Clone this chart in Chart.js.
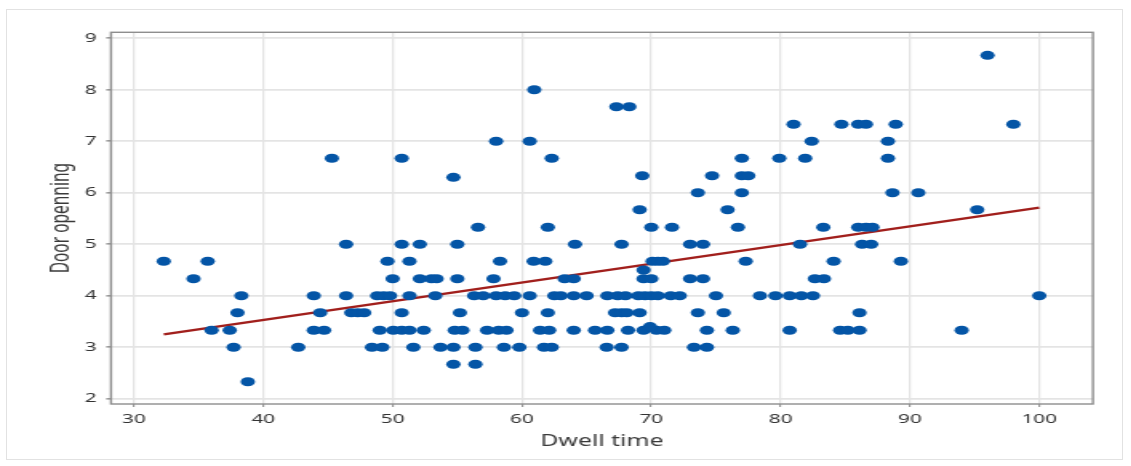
<!DOCTYPE html>
<html>
<head>
<meta charset="utf-8">
<title>Dwell time vs Door openning</title>
<script src="https://cdn.jsdelivr.net/npm/chart.js@4/dist/chart.umd.min.js"></script>
<style>
  html, body { margin: 0; padding: 0; background: #fff; }
  #page { position: relative; width: 1131px; height: 466px; overflow: hidden; }
  #frame { position: absolute; left: 6px; top: 9px; width: 1117px; height: 451px; border: 1px solid #e2e2e2; box-sizing: border-box; }
  /* the plot is drawn narrow and widened, like the exported graph */
  #stretch { position: absolute; left: 0; top: 0; transform: scaleX(1.6); transform-origin: 0 0; }
</style>
</head>
<body>
<div id="page">
  <div id="frame"></div>
  <div id="stretch"><canvas id="scatterChart" width="707" height="466"></canvas></div>
</div>
<script>
// door openning values that occur, and the dwell times observed at each of them
const doorLevels = [2.33, 2.67, 3, 3.33, 3.4, 3.67, 4, 4.33, 4.5, 4.67, 5, 5.33, 5.67, 6, 6.3, 6.33, 6.67, 7, 7.33, 7.67, 8, 8.67];
const dwellByLevel = [
  [38.8],
  [54.7, 56.4],
  [37.7, 42.7, 48.4, 49.2, 51.6, 53.7, 54.7, 56.4, 58.6, 59.8, 61.7, 62.3, 66.55, 67.7, 73.3, 74.3],
  [36.0, 37.4, 43.9, 44.7, 49.0, 50.05, 50.7, 51.3, 52.4, 54.8, 55.4, 57.3, 58.2, 58.8, 61.4, 62.1, 64.0, 65.65, 66.6, 68.2, 69.4, 70.4, 71.0, 74.3, 76.3, 80.7, 84.6, 85.2, 86.1, 94.0],
  [69.9],
  [38.0, 44.4, 46.8, 47.3, 47.8, 50.7, 55.2, 60.0, 62.0, 67.2, 67.7, 68.1, 69.1, 73.6, 75.6, 86.1],
  [38.3, 43.9, 46.4, 48.8, 49.3, 49.8, 51.3, 53.3, 56.3, 57.0, 58.0, 58.7, 59.4, 60.6, 62.5, 63.0, 64.0, 65.0, 66.6, 67.4, 68.0, 69.0, 69.5, 70.0, 70.5, 71.5, 72.2, 75.0, 78.4, 79.6, 80.7, 81.6, 82.5, 100.0],
  [34.6, 50.0, 52.1, 53.0, 53.4, 55.0, 57.8, 63.3, 64.0, 69.4, 70.0, 73.0, 74.0, 82.65, 83.35],
  [69.4],
  [32.3, 35.7, 49.6, 51.3, 58.3, 60.9, 61.8, 70.1, 70.5, 70.9, 77.3, 84.1, 89.3],
  [46.4, 50.7, 52.1, 55.0, 64.1, 67.7, 73.0, 74.0, 81.5, 86.3, 87.0],
  [56.6, 62.0, 70.0, 71.6, 76.7, 83.3, 86.0, 86.6, 87.1],
  [69.1, 75.9, 95.2],
  [73.6, 77.0, 88.65, 90.65],
  [54.7],
  [69.3, 74.7, 77.0, 77.5],
  [45.3, 50.7, 62.3, 77.0, 79.9, 81.9, 88.3],
  [58.0, 60.6, 82.4, 88.3],
  [81.0, 84.7, 86.0, 86.6, 88.9, 98.0],
  [67.3, 68.3],
  [60.95],
  [96.0]
];

// fitted line end points
const fitDwell = [32.3, 100];
const fitDoor = [3.25, 5.71];

const xTicks = [30, 40, 50, 60, 70, 80, 90, 100];
const yTicks = [2, 3, 4, 5, 6, 7, 8, 9];

const points = doorLevels.flatMap((y, i) => dwellByLevel[i].map(x => ({ x: x, y: y })));
const fitLine = fitDwell.map((x, i) => ({ x: x, y: fitDoor[i] }));

// grey box round the plot area
const plotFrame = {
    id: 'plotFrame',
    beforeDatasetsDraw(chart) {
        const { ctx, chartArea: a } = chart;
        ctx.save();
        ctx.strokeStyle = '#8e8e8e';
        ctx.lineWidth = 1.4;
        ctx.strokeRect(a.left, a.top, a.right - a.left, a.bottom - a.top);
        ctx.restore();
    }
};

const tickFont = { family: 'Noto Sans', size: 13 };
const titleFont = { family: 'Noto Sans', size: 15.5 };

new Chart(document.getElementById('scatterChart').getContext('2d'), {
    type: 'scatter',
    data: {
        datasets: [{
            data: points,
            backgroundColor: '#0455a6',
            pointBackgroundColor: '#0455a6',
            pointBorderWidth: 0,
            pointRadius: 4.5
        }, {
            data: fitLine,
            showLine: true,
            borderColor: '#a11f1c',
            borderWidth: 2.4,
            pointRadius: 0
        }]
    },
    options: {
        responsive: false,
        animation: false,
        layout: { padding: { left: 0, top: 32.3, right: 23.9, bottom: 0 } },
        scales: {
            x: {
                type: 'linear',
                min: 28.22,
                max: 104.15,
                afterBuildTicks: s => { s.ticks = xTicks.map(v => ({ value: v })); },
                afterFit: s => { s.height = 62; },
                border: { display: false },
                grid: { color: '#e4e4e4', lineWidth: 1.25, tickLength: 3, tickColor: '#8a8a8a', tickWidth: 1 },
                ticks: { font: tickFont, color: '#333', padding: 4, autoSkip: false, maxRotation: 0 },
                title: { display: true, text: 'Dwell time', font: titleFont, color: '#3a3a3a', padding: { top: 0, bottom: 15 } }
            },
            y: {
                type: 'linear',
                min: 1.897,
                max: 9.117,
                afterBuildTicks: s => { s.ticks = yTicks.map(v => ({ value: v })); },
                afterFit: s => { s.width = 69.4; },
                border: { display: false },
                grid: { color: '#e4e4e4', lineWidth: 1.7, tickLength: 3, tickColor: '#8a8a8a', tickWidth: 1.4 },
                ticks: { font: tickFont, color: '#333', padding: 6 },
                title: { display: true, text: 'Door openning', font: titleFont, color: '#3a3a3a', padding: { top: 29, bottom: 0 } }
            }
        },
        plugins: {
            legend: { display: false },
            tooltip: { enabled: false }
        }
    },
    plugins: [plotFrame]
});
</script>
</body>
</html>
